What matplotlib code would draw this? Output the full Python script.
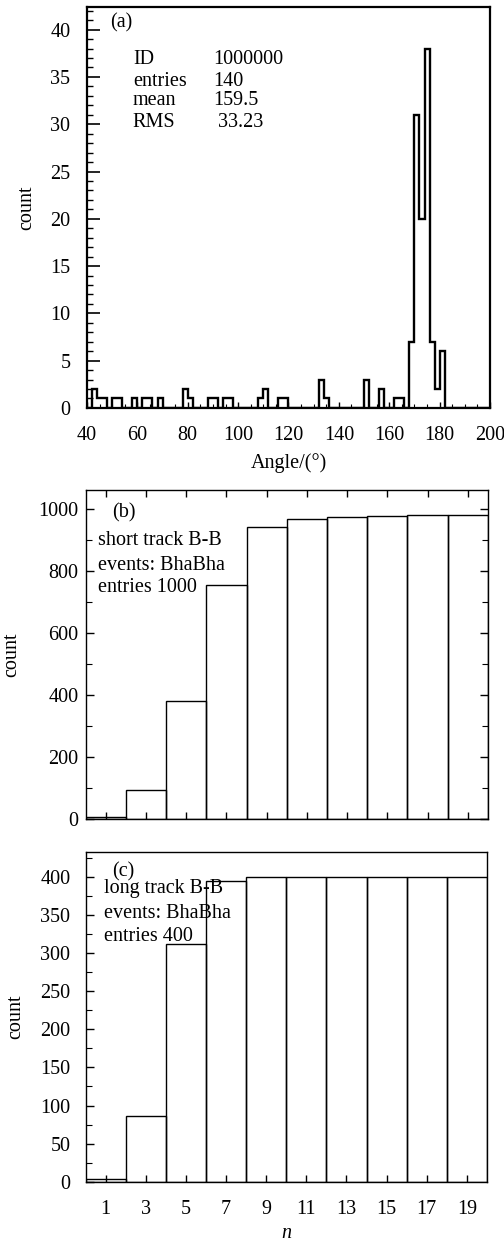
import numpy as np
import matplotlib
matplotlib.use('Agg')
import matplotlib.pyplot as plt
from matplotlib.ticker import MultipleLocator, FixedLocator

plt.rcParams['font.family'] = ['Liberation Serif', 'DejaVu Serif']
plt.rcParams['font.size'] = 14.5

# (a) angle histogram, 2-degree bins: left edge -> count (empty bins omitted)
angle_left = [42, 44, 46, 50, 52, 58, 62, 64, 68, 78, 80, 88, 90, 94, 96,
              108, 110, 116, 118, 132, 134, 150, 156, 162, 164,
              168, 170, 172, 174, 176, 178, 180]
angle_count = [2, 1, 1, 1, 1, 1, 1, 1, 1, 2, 1, 1, 1, 1, 1,
               1, 2, 1, 1, 3, 1, 3, 2, 1, 1,
               7, 31, 20, 38, 7, 2, 6]
stats_names = ['ID', 'entries', 'mean', 'RMS']
stats_values = ['1000000', '140', '159.5', ' 33.23']

# (b), (c) counts per n bin (bins of width 2 from 0 to 20)
n_labels = [1, 3, 5, 7, 9, 11, 13, 15, 17, 19]
short_counts = [6, 93, 382, 755, 943, 969, 975, 977, 979, 982]
long_counts = [4, 86, 312, 394, 400, 400, 400, 400, 400, 400]

fig = plt.figure(figsize=(5.04, 12.43), dpi=100)
ax_a = fig.add_axes([0.1726, 0.6718, 0.7996, 0.3226])
ax_b = fig.add_axes([0.170, 0.3409, 0.798, 0.2649])
ax_c = fig.add_axes([0.170, 0.0493, 0.796, 0.2655])

# ---- panel (a)
edges = np.arange(40, 202, 2)
full = np.zeros(len(edges) - 1)
for left, cnt in zip(angle_left, angle_count):
    full[(left - 40) // 2] = cnt
ax_a.stairs(full, edges, color='black', lw=1.7)
ax_a.set_xlim(40, 200)
ax_a.set_ylim(0, 42.4)
for s in ax_a.spines.values():
    s.set_linewidth(1.6)
ax_a.xaxis.set_major_locator(MultipleLocator(20))
ax_a.xaxis.set_minor_locator(MultipleLocator(5))
ax_a.yaxis.set_major_locator(MultipleLocator(5))
ax_a.yaxis.set_minor_locator(MultipleLocator(1))
ax_a.tick_params(axis='y', which='major', direction='in', length=9, width=1.2, pad=12)
ax_a.tick_params(axis='y', which='minor', direction='in', length=4.5, width=1.0)
ax_a.tick_params(axis='x', which='major', direction='in', length=4, width=1.0, pad=13)
ax_a.tick_params(axis='x', which='minor', direction='in', length=3, width=0.8)
ax_a.set_xlabel('Angle/(°)')
ax_a.xaxis.set_label_coords(0.5, -0.113)
ax_a.set_ylabel('count')
ax_a.yaxis.set_label_coords(-0.125, 0.5)
ax_a.text(0.057, 0.96, '(a)', transform=ax_a.transAxes, va='center', ha='left')
for i, (nm, val) in enumerate(zip(stats_names, stats_values)):
    y = [0.868, 0.813, 0.766, 0.713][i]
    ax_a.text(0.114, y, nm, transform=ax_a.transAxes, va='center', ha='left')
    ax_a.text(0.313, y, val, transform=ax_a.transAxes, va='center', ha='left')

# ---- panels (b), (c)
n_edges = np.arange(0, 22, 2)
for ax, counts in ((ax_b, short_counts), (ax_c, long_counts)):
    ax.bar(n_edges[:-1], counts, width=2, align='edge', fill=False,
           edgecolor='black', lw=1.0)
    ax.set_xlim(0, 20)
    for s in ax.spines.values():
        s.set_linewidth(1.0)
    ax.xaxis.set_major_locator(FixedLocator(n_labels))
    ax.set_ylabel('count')

ax_b.set_ylim(0, 1061)
ax_b.yaxis.set_major_locator(MultipleLocator(200))
ax_b.yaxis.set_minor_locator(MultipleLocator(100))
ax_b.tick_params(axis='y', which='major', direction='in', length=6, width=1.0,
                 pad=5, right=True)
ax_b.tick_params(axis='y', which='minor', direction='in', length=4, width=0.8,
                 right=True)
ax_b.tick_params(axis='x', which='major', direction='in', length=5, width=1.0,
                 top=True, labelbottom=False)
ax_b.yaxis.set_label_coords(-0.16, 0.5)
ax_b.text(0.065, 0.93, '(b)', transform=ax_b.transAxes, va='center', ha='left')
ax_b.text(0.03, 0.848, 'short track B-B', transform=ax_b.transAxes, va='center', ha='left')
ax_b.text(0.03, 0.772, 'events: BhaBha', transform=ax_b.transAxes, va='center', ha='left')
ax_b.text(0.03, 0.703, 'entries 1000', transform=ax_b.transAxes, va='center', ha='left')

ax_c.set_ylim(0, 433)
ax_c.yaxis.set_major_locator(MultipleLocator(50))
ax_c.yaxis.set_minor_locator(MultipleLocator(25))
ax_c.tick_params(axis='y', which='major', direction='in', length=6, width=1.0, pad=11)
ax_c.tick_params(axis='y', which='minor', direction='in', length=4, width=0.8)
ax_c.tick_params(axis='x', which='major', direction='in', length=5, width=1.0, pad=13)
ax_c.set_xlabel('n', fontstyle='italic')
ax_c.xaxis.set_label_coords(0.5, -0.128)
ax_c.yaxis.set_label_coords(-0.151, 0.5)
ax_c.text(0.066, 0.94, '(c)', transform=ax_c.transAxes, va='center', ha='left')
ax_c.text(0.046, 0.887, 'long track B-B', transform=ax_c.transAxes, va='center', ha='left')
ax_c.text(0.046, 0.814, 'events: BhaBha', transform=ax_c.transAxes, va='center', ha='left')
ax_c.text(0.046, 0.742, 'entries 400', transform=ax_c.transAxes, va='center', ha='left')

fig.savefig('out.png', dpi=100)
